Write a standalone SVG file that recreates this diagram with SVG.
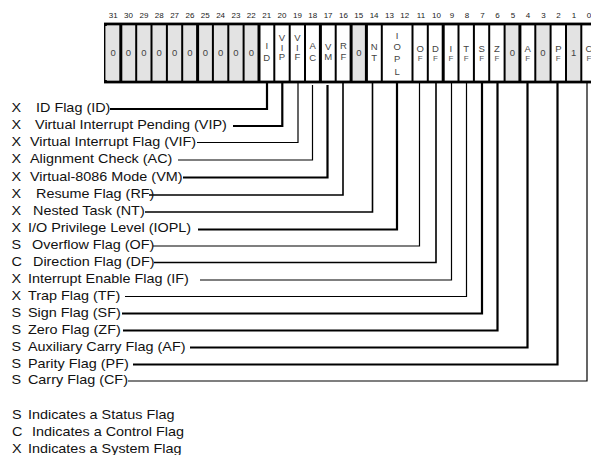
<svg xmlns="http://www.w3.org/2000/svg" width="591" height="455" viewBox="0 0 591 455">
<style>
  .bn{font-family:"Liberation Sans",Arial,sans-serif;font-size:8px;fill:#222;text-anchor:middle}
  .cl{font-family:"Liberation Sans",Arial,sans-serif;font-size:9.5px;fill:#444;text-anchor:middle}
  .cs{font-family:"Liberation Sans",Arial,sans-serif;font-size:8px;fill:#555;text-anchor:middle}
  .lb{font-family:"Liberation Sans",Arial,sans-serif;font-size:12px;fill:#111}
  .gray{fill:#e3e3e3}
  .sep{stroke:#000;stroke-width:2}
  .sepT{stroke:#000;stroke-width:3}
  .c{fill:none;stroke:#000;stroke-width:1.2}
  .m{fill:none;stroke:#000;stroke-width:1.6}
  .t{fill:none;stroke:#000;stroke-width:2.2}
</style>
<rect width="591" height="455" fill="#fff"/>
<!-- bit numbers -->
<g id="bitnumbers">
  <text class="bn" x="113.2" y="18">31</text><text class="bn" x="128.5" y="18">30</text>
  <text class="bn" x="143.9" y="18">29</text><text class="bn" x="159.2" y="18">28</text>
  <text class="bn" x="174.6" y="18">27</text><text class="bn" x="189.9" y="18">26</text>
  <text class="bn" x="205.3" y="18">25</text><text class="bn" x="220.6" y="18">24</text>
  <text class="bn" x="236" y="18">23</text><text class="bn" x="251.3" y="18">22</text>
  <text class="bn" x="266.7" y="18">21</text><text class="bn" x="282" y="18">20</text>
  <text class="bn" x="297.4" y="18">19</text><text class="bn" x="312.7" y="18">18</text>
  <text class="bn" x="328.1" y="18">17</text><text class="bn" x="343.4" y="18">16</text>
  <text class="bn" x="358.8" y="18">15</text><text class="bn" x="374.1" y="18">14</text>
  <text class="bn" x="389.5" y="18">13</text><text class="bn" x="404.8" y="18">12</text>
  <text class="bn" x="421" y="18">11</text><text class="bn" x="436.5" y="18">10</text>
  <text class="bn" x="452" y="18">9</text><text class="bn" x="467" y="18">8</text>
  <text class="bn" x="482.5" y="18">7</text><text class="bn" x="497.5" y="18">6</text>
  <text class="bn" x="513" y="18">5</text><text class="bn" x="528" y="18">4</text>
  <text class="bn" x="543.5" y="18">3</text><text class="bn" x="558.5" y="18">2</text>
  <text class="bn" x="574" y="18">1</text><text class="bn" x="589" y="18">0</text>
</g>
<!-- register frame and cells -->
<g id="register">
  <rect x="105.4" y="24" width="500" height="58" fill="#fff" stroke="#000" stroke-width="2.8"/>
  <rect class="gray" x="105.4" y="26" width="153.6" height="54"/>
  <rect class="gray" x="351.1" y="26" width="15.3" height="54"/>
  <rect class="gray" x="504.6" y="26" width="15.3" height="54"/>
  <rect class="gray" x="535.3" y="26" width="15.3" height="54"/>
  <rect class="gray" x="566" y="26" width="15.3" height="54"/>
  <line class="sepT" x1="120.8" y1="24" x2="120.8" y2="82"/>
  <line class="sep" x1="136.2" y1="24" x2="136.2" y2="82"/>
  <line class="sep" x1="151.5" y1="24" x2="151.5" y2="82"/>
  <line class="sep" x1="166.9" y1="24" x2="166.9" y2="82"/>
  <line class="sep" x1="182.2" y1="24" x2="182.2" y2="82"/>
  <line class="sepT" x1="197.6" y1="24" x2="197.6" y2="82"/>
  <line class="sep" x1="212.9" y1="24" x2="212.9" y2="82"/>
  <line class="sep" x1="228.3" y1="24" x2="228.3" y2="82"/>
  <line class="sep" x1="243.6" y1="24" x2="243.6" y2="82"/>
  <line class="sepT" x1="259" y1="24" x2="259" y2="82"/>
  <line class="sep" x1="274.3" y1="24" x2="274.3" y2="82"/>
  <line class="sep" x1="289.7" y1="24" x2="289.7" y2="82"/>
  <line class="sep" x1="305" y1="24" x2="305" y2="82"/>
  <line class="sepT" x1="320.4" y1="24" x2="320.4" y2="82"/>
  <line class="sep" x1="335.7" y1="24" x2="335.7" y2="82"/>
  <line class="sepT" x1="351.1" y1="24" x2="351.1" y2="82"/>
  <line class="sepT" x1="366.4" y1="24" x2="366.4" y2="82"/>
  <line class="sep" x1="381.8" y1="24" x2="381.8" y2="82"/>
  <line class="sep" x1="412.5" y1="24" x2="412.5" y2="82"/>
  <line class="sep" x1="427.8" y1="24" x2="427.8" y2="82"/>
  <line class="sepT" x1="443.2" y1="24" x2="443.2" y2="82"/>
  <line class="sep" x1="458.5" y1="24" x2="458.5" y2="82"/>
  <line class="sep" x1="473.9" y1="24" x2="473.9" y2="82"/>
  <line class="sep" x1="489.2" y1="24" x2="489.2" y2="82"/>
  <line class="sep" x1="504.6" y1="24" x2="504.6" y2="82"/>
  <line class="sepT" x1="519.9" y1="24" x2="519.9" y2="82"/>
  <line class="sep" x1="535.3" y1="24" x2="535.3" y2="82"/>
  <line class="sep" x1="550.6" y1="24" x2="550.6" y2="82"/>
  <line class="sep" x1="566" y1="24" x2="566" y2="82"/>
  <line class="sep" x1="581.3" y1="24" x2="581.3" y2="82"/>
</g>
<!-- reserved bits -->
<g id="reserved">
  <text class="cl" x="113.2" y="55.5">0</text><text class="cl" x="128.5" y="55.5">0</text>
  <text class="cl" x="143.9" y="55.5">0</text><text class="cl" x="159.2" y="55.5">0</text>
  <text class="cl" x="174.6" y="55.5">0</text><text class="cl" x="189.9" y="55.5">0</text>
  <text class="cl" x="205.3" y="55.5">0</text><text class="cl" x="220.6" y="55.5">0</text>
  <text class="cl" x="236" y="55.5">0</text><text class="cl" x="251.3" y="55.5">0</text>
  <text class="cl" x="358.8" y="55.5">0</text>
  <text class="cl" x="512.3" y="55.5">0</text>
  <text class="cl" x="543" y="55.5">0</text>
  <text class="cl" x="573.7" y="55.5">1</text>
</g>
<g id="cell-ID"><text class="cl" x="266.7" y="49">I</text><text class="cl" x="266.7" y="61">D</text></g>
<g id="cell-VIP"><text class="cl" x="282" y="41">V</text><text class="cl" x="282" y="50.5">I</text><text class="cl" x="282" y="60">P</text></g>
<g id="cell-VIF"><text class="cl" x="297.4" y="41">V</text><text class="cl" x="297.4" y="50.5">I</text><text class="cl" x="297.4" y="60">F</text></g>
<g id="cell-AC"><text class="cl" x="312.7" y="49">A</text><text class="cl" x="312.7" y="60.5">C</text></g>
<g id="cell-VM"><text class="cl" x="328.1" y="49.5">V</text><text class="cl" x="328.1" y="60">M</text></g>
<g id="cell-RF"><text class="cl" x="343.4" y="49">R</text><text class="cl" x="343.4" y="59.5">F</text></g>
<g id="cell-NT"><text class="cl" x="374.1" y="50">N</text><text class="cl" x="374.1" y="60.5">T</text></g>
<g id="cell-IOPL"><text class="cl" x="397.1" y="38.5">I</text><text class="cl" x="397.1" y="50">O</text><text class="cl" x="397.1" y="61.5">P</text><text class="cl" x="397.1" y="75">L</text></g>
<g id="cell-OF"><text class="cl" x="420.2" y="51.5">O</text><text class="cs" x="420.2" y="61">F</text></g>
<g id="cell-DF"><text class="cl" x="435.5" y="51.5">D</text><text class="cs" x="435.5" y="61">F</text></g>
<g id="cell-IF"><text class="cl" x="450.9" y="51.5">I</text><text class="cs" x="450.9" y="61">F</text></g>
<g id="cell-TF"><text class="cl" x="466.2" y="51.5">T</text><text class="cs" x="466.2" y="61">F</text></g>
<g id="cell-SF"><text class="cl" x="481.6" y="51.5">S</text><text class="cs" x="481.6" y="61">F</text></g>
<g id="cell-ZF"><text class="cl" x="496.9" y="51.5">Z</text><text class="cs" x="496.9" y="61">F</text></g>
<g id="cell-AF"><text class="cl" x="527.6" y="51.5">A</text><text class="cs" x="527.6" y="61">F</text></g>
<g id="cell-PF"><text class="cl" x="558.3" y="51.5">P</text><text class="cs" x="558.3" y="61">F</text></g>
<g id="cell-CF"><text class="cl" x="589" y="51.5">C</text><text class="cs" x="589" y="61">F</text></g>
<!-- connectors -->
<g id="connectors">
  <polyline class="t" points="267,83 267,109 110,109"/>
  <polyline class="t" points="282.3,83 282.3,126 233,126"/>
  <polyline class="c" points="298,83 298,142.5 197,142.5"/>
  <polyline class="c" points="312.5,85 312.5,160 178,160"/>
  <polyline class="t" points="327.5,85 327.5,177.5 183,177.5"/>
  <polyline class="m" points="343,83 343,195 149,195"/>
  <polyline class="m" points="372.5,83 372.5,212 145,212"/>
  <polyline class="t" points="397,83 397,229.5 198,229.5"/>
  <polyline class="c" points="419.5,83 419.5,246 153,246"/>
  <polyline class="m" points="436,83 436,262.5 154,262.5"/>
  <polyline class="c" points="451.5,83 451.5,280 200,280"/>
  <polyline class="c" points="466.5,83 466.5,296.5 125,296.5"/>
  <polyline class="t" points="482,83 482,313.5 122,313.5"/>
  <polyline class="t" points="497.5,83 497.5,330.5 123,330.5"/>
  <polyline class="t" points="527.5,83 527.5,347.5 190,347.5"/>
  <polyline class="t" points="557.5,83 557.5,364.5 133,364.5"/>
  <polyline class="c" points="587,83 587,381 128,381"/>
</g>
<!-- labels -->
<g id="labels" transform="scale(1.2,1)">
  <g id="label-ID"><text class="lb" x="9.6" y="112.5">X</text><text class="lb" x="30" y="112.5">ID Flag (ID)</text></g>
  <g id="label-VIP"><text class="lb" x="9.6" y="129.5">X</text><text class="lb" x="29.2" y="129.5">Virtual Interrupt Pending (VIP)</text></g>
  <g id="label-VIF"><text class="lb" x="9.6" y="146">X</text><text class="lb" x="25" y="146">Virtual Interrupt Flag (VIF)</text></g>
  <g id="label-AC"><text class="lb" x="9.6" y="163.5">X</text><text class="lb" x="25" y="163.5">Alignment Check (AC)</text></g>
  <g id="label-VM"><text class="lb" x="9.6" y="181">X</text><text class="lb" x="25" y="181">Virtual-8086 Mode (VM)</text></g>
  <g id="label-RF"><text class="lb" x="9.6" y="198">X</text><text class="lb" x="30" y="198">Resume Flag (RF)</text></g>
  <g id="label-NT"><text class="lb" x="9.6" y="215">X</text><text class="lb" x="27.5" y="215">Nested Task (NT)</text></g>
  <g id="label-IOPL"><text class="lb" x="9.6" y="232.5">X</text><text class="lb" x="23.3" y="232.5">I/O Privilege Level (IOPL)</text></g>
  <g id="label-OF"><text class="lb" x="9.6" y="249.5">S</text><text class="lb" x="26.7" y="249.5">Overflow Flag (OF)</text></g>
  <g id="label-DF"><text class="lb" x="9.6" y="266">C</text><text class="lb" x="27.5" y="266">Direction Flag (DF)</text></g>
  <g id="label-IF"><text class="lb" x="9.6" y="283.5">X</text><text class="lb" x="23.3" y="283.5">Interrupt Enable Flag (IF)</text></g>
  <g id="label-TF"><text class="lb" x="9.6" y="300">X</text><text class="lb" x="23.3" y="300">Trap Flag (TF)</text></g>
  <g id="label-SF"><text class="lb" x="9.6" y="317">S</text><text class="lb" x="23.3" y="317">Sign Flag (SF)</text></g>
  <g id="label-ZF"><text class="lb" x="9.6" y="334">S</text><text class="lb" x="23.3" y="334">Zero Flag (ZF)</text></g>
  <g id="label-AF"><text class="lb" x="9.6" y="351">S</text><text class="lb" x="23.3" y="351">Auxiliary Carry Flag (AF)</text></g>
  <g id="label-PF"><text class="lb" x="9.6" y="368">S</text><text class="lb" x="23.3" y="368">Parity Flag (PF)</text></g>
  <g id="label-CF"><text class="lb" x="9.6" y="384.5">S</text><text class="lb" x="23.3" y="384.5">Carry Flag (CF)</text></g>
  <g id="legend">
    <text class="lb" x="10" y="419">S</text><text class="lb" x="23.3" y="419">Indicates a Status Flag</text>
    <text class="lb" x="10" y="436">C</text><text class="lb" x="26.7" y="436">Indicates a Control Flag</text>
    <text class="lb" x="10" y="453">X</text><text class="lb" x="23.3" y="453">Indicates a System Flag</text>
  </g>
</g>
</svg>
